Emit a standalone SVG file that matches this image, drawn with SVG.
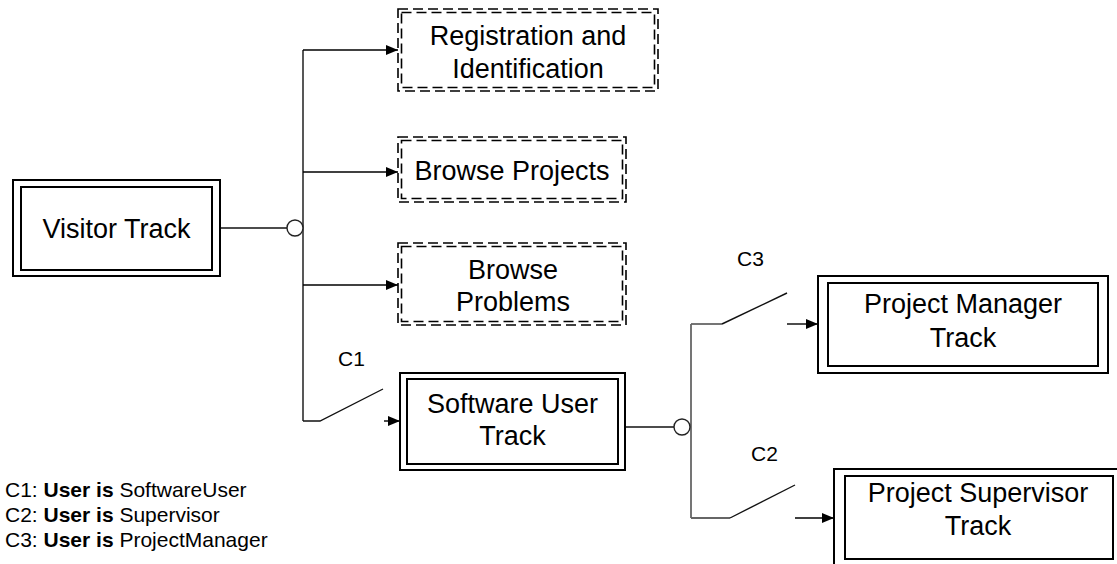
<svg xmlns="http://www.w3.org/2000/svg" width="1117" height="564" viewBox="0 0 1117 564">
  <style>
    .label { font-family: "Liberation Sans", Arial, sans-serif; font-size: 27px; fill: #000; text-anchor: middle; }
    .cond { font-family: "Liberation Sans", Arial, sans-serif; font-size: 21px; fill: #000; }
    .solid { fill: #fff; stroke: #000; stroke-width: 2; }
    .dash { fill: none; stroke: #000; stroke-width: 1.6; stroke-dasharray: 10 5; }
    .wire { fill: none; stroke: #111; stroke-width: 1.4; }
    .wire2 { fill: none; stroke: #666; stroke-width: 1.8; }
    .arrow { fill: none; stroke: #000; stroke-width: 1.4; marker-end: url(#head); }
    .junction { fill: #fff; stroke: #222; stroke-width: 1.4; }
  </style>
  <defs>
    <marker id="head" markerUnits="userSpaceOnUse" markerWidth="12" markerHeight="10" refX="12" refY="5" orient="auto">
      <path d="M0,0 L12,5 L0,10 Z" fill="#000"/>
    </marker>
  </defs>
  <rect width="1117" height="564" fill="#fff"/>

  <g id="connectors">
    <!-- visitor track to its junction -->
    <line class="wire" x1="220" y1="228" x2="287" y2="228"/>
    <line class="wire" x1="303" y1="50" x2="303" y2="421"/>
    <line class="arrow" x1="303" y1="50" x2="398" y2="50"/>
    <line class="arrow" x1="303" y1="172" x2="398" y2="172"/>
    <line class="arrow" x1="303" y1="285" x2="398" y2="285"/>
    <!-- C1 switch -->
    <polyline class="wire" points="303,421 320,421 383,389"/>
    <line class="arrow" x1="384" y1="421" x2="400" y2="421"/>
    <circle class="junction" cx="295" cy="228" r="8"/>

    <!-- software user track to its junction -->
    <line class="wire" x1="625" y1="427" x2="674" y2="427"/>
    <line class="wire2" x1="691" y1="324" x2="691" y2="518"/>
    <!-- C3 switch -->
    <polyline class="wire2" points="691,324 722,324"/>
    <line class="wire" x1="722" y1="324" x2="787" y2="293"/>
    <line class="arrow" x1="787" y1="324" x2="818" y2="324"/>
    <!-- C2 switch -->
    <polyline class="wire2" points="691,518 730,518"/>
    <line class="wire" x1="730" y1="518" x2="795" y2="485"/>
    <line class="arrow" x1="795" y1="518" x2="834" y2="518"/>
    <circle class="junction" cx="682" cy="427" r="8"/>

    <text class="cond" x="338" y="366">C1</text>
    <text class="cond" x="737" y="266">C3</text>
    <text class="cond" x="751" y="461">C2</text>
  </g>

  <g id="visitor-track">
    <rect class="solid" x="13" y="180" width="207" height="96"/>
    <rect class="solid" x="21" y="187" width="191" height="83"/>
    <text class="label" x="116.5" y="238">Visitor Track</text>
  </g>

  <g id="registration">
    <rect class="dash" x="398" y="9" width="260" height="82"/>
    <rect class="dash" x="401.5" y="12.5" width="253" height="75"/>
    <text class="label" x="528" y="45">Registration and</text>
    <text class="label" x="528" y="78">Identification</text>
  </g>

  <g id="browse-projects">
    <rect class="dash" x="398" y="137" width="228" height="65"/>
    <rect class="dash" x="401.5" y="140.5" width="221" height="58"/>
    <text class="label" x="512" y="180">Browse Projects</text>
  </g>

  <g id="browse-problems">
    <rect class="dash" x="398" y="243" width="228" height="82"/>
    <rect class="dash" x="401.5" y="246.5" width="221" height="75"/>
    <text class="label" x="513" y="279">Browse</text>
    <text class="label" x="513" y="311">Problems</text>
  </g>

  <g id="software-user-track">
    <rect class="solid" x="400" y="373" width="225" height="97"/>
    <rect class="solid" x="407" y="379" width="211" height="85"/>
    <text class="label" x="512.5" y="413">Software User</text>
    <text class="label" x="512.5" y="445">Track</text>
  </g>

  <g id="project-manager-track">
    <rect class="solid" x="818" y="276" width="290" height="97"/>
    <rect class="solid" x="828" y="283" width="270" height="83"/>
    <text class="label" x="963" y="313">Project Manager</text>
    <text class="label" x="963" y="347">Track</text>
  </g>

  <g id="project-supervisor-track">
    <rect class="solid" x="834" y="469" width="286" height="100"/>
    <rect class="solid" x="845" y="476" width="268" height="83"/>
    <text class="label" x="978" y="502">Project Supervisor</text>
    <text class="label" x="978" y="535">Track</text>
  </g>

  <g id="legend">
    <text class="cond" x="5" y="497">C1: <tspan font-weight="bold">User is</tspan> SoftwareUser</text>
    <text class="cond" x="5" y="522">C2: <tspan font-weight="bold">User is</tspan> Supervisor</text>
    <text class="cond" x="5" y="547">C3: <tspan font-weight="bold">User is</tspan> ProjectManager</text>
  </g>
</svg>
